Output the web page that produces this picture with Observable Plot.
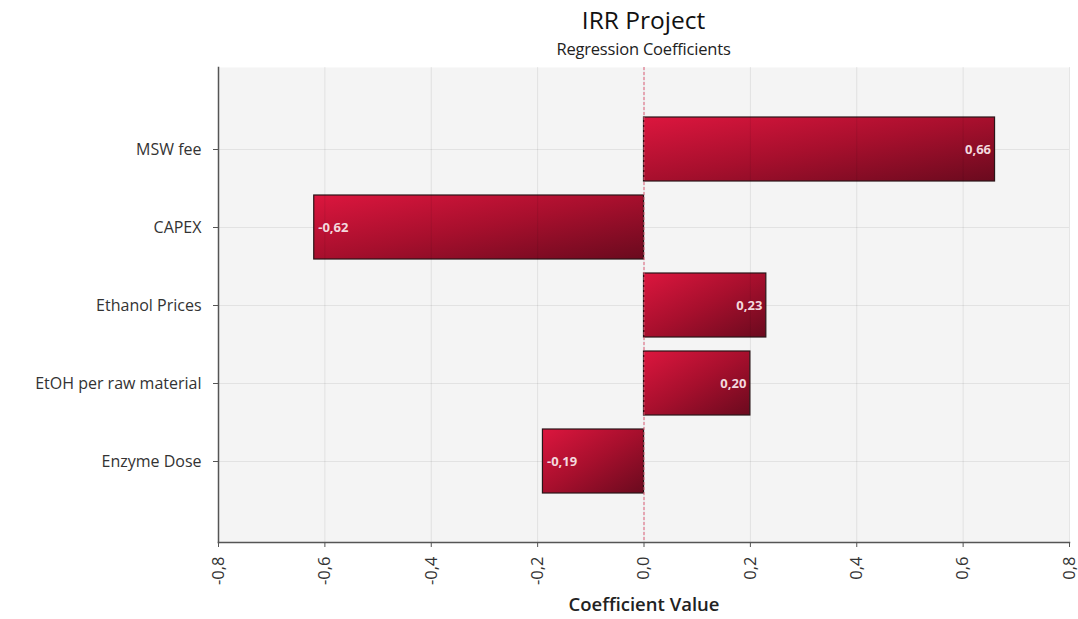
<!DOCTYPE html>
<html>
<head>
<meta charset="utf-8">
<script src="https://cdn.jsdelivr.net/npm/d3@7"></script>
<script src="https://cdn.jsdelivr.net/npm/@observablehq/plot@0.6"></script>
<style>
  html, body { margin: 0; padding: 0; background: #fff; }
  #wrap { position: relative; width: 1078px; height: 619px; font-family: "Open Sans", sans-serif; }
  #title { position: absolute; left: 218px; width: 851px; top: 8px; text-align: center; font-size: 24.5px; line-height: 24px; color: #111; }
  #subtitle { position: absolute; left: 218px; width: 851px; top: 41px; text-align: center; font-size: 16.5px; line-height: 16px; color: #222; letter-spacing: -0.2px; }
  #chart { position: absolute; left: 0; top: 62px; }
  #chart svg { overflow: visible; }
</style>
</head>
<body>
<div id="wrap">
  <div id="title">IRR Project</div>
  <div id="subtitle">Regression Coefficients</div>
  <div id="chart"></div>
</div>
<script>
const categories = ["MSW fee", "CAPEX", "Ethanol Prices", "EtOH per raw material", "Enzyme Dose"];
const coefficients = [0.66, -0.62, 0.23, 0.20, -0.19];
const xTicks = [-0.8, -0.6, -0.4, -0.2, 0, 0.2, 0.4, 0.6, 0.8];
const xLabel = "Coefficient Value";

const data = categories.map((c, i) => ({ factor: c, value: coefficients[i] }));
const fmt1 = v => v.toFixed(1).replace(".", ",");
const fmt2 = v => v.toFixed(2).replace(".", ",");

const defs = () => {
  const ns = "http://www.w3.org/2000/svg";
  const d = document.createElementNS(ns, "defs");
  d.innerHTML = '<linearGradient id="barGrad" x1="0" y1="0" x2="1" y2="1">' +
    '<stop offset="0" stop-color="#dc163e"/>' +
    '<stop offset="0.5" stop-color="#a70f2d"/>' +
    '<stop offset="1" stop-color="#6a0a1e"/></linearGradient>';
  return d;
};

const chart = Plot.plot({
  width: 1078,
  height: 557,
  marginTop: 5,
  marginBottom: 77,
  marginLeft: 218,
  marginRight: 9,
  style: { fontFamily: "Open Sans, sans-serif", color: "#333", background: "transparent", overflow: "visible" },
  x: { domain: [-0.8, 0.8] },
  y: { type: "band", domain: categories, paddingInner: 0.18, paddingOuter: 0.6 },
  marks: [
    defs,
    Plot.frame({ fill: "#f4f4f4", stroke: null }),
    Plot.gridY({ stroke: "#000", strokeOpacity: 0.07 }),
    Plot.barX(data, { x: "value", y: "factor", fill: "url(#barGrad)", stroke: "#2a1518", strokeWidth: 1.2 }),
    Plot.gridX({ ticks: xTicks, stroke: "#000", strokeOpacity: 0.08 }),
    Plot.ruleX([0], { stroke: "#e0607a", strokeWidth: 1, strokeDasharray: "3,2" }),
    Plot.text(data.filter(d => d.value >= 0), { x: "value", y: "factor", text: d => fmt2(d.value), textAnchor: "end", dx: -4, fill: "#f3d9de", fontWeight: "bold", fontSize: 13 }),
    Plot.text(data.filter(d => d.value < 0), { x: "value", y: "factor", text: d => fmt2(d.value), textAnchor: "start", dx: 4, fill: "#f3d9de", fontWeight: "bold", fontSize: 13 }),
    Plot.frame({ anchor: "left", stroke: "#555", strokeWidth: 1.5 }),
    Plot.frame({ anchor: "bottom", stroke: "#555", strokeWidth: 1.5 }),
    Plot.axisY({ tickSize: 5, tickPadding: 12, fontSize: 16, label: null, stroke: "#555", fill: "#333" }),
    Plot.axisX({ ticks: xTicks, tickFormat: fmt1, tickRotate: -90, tickSize: 5, tickPadding: 9, fontSize: 16.5, label: null, stroke: "#555", fill: "#333" }),
    Plot.text([xLabel], { frameAnchor: "bottom", dy: 68, fontSize: 18.5, fontWeight: 600, fill: "#222" })
  ]
});
document.getElementById("chart").appendChild(chart);
</script>
</body>
</html>
